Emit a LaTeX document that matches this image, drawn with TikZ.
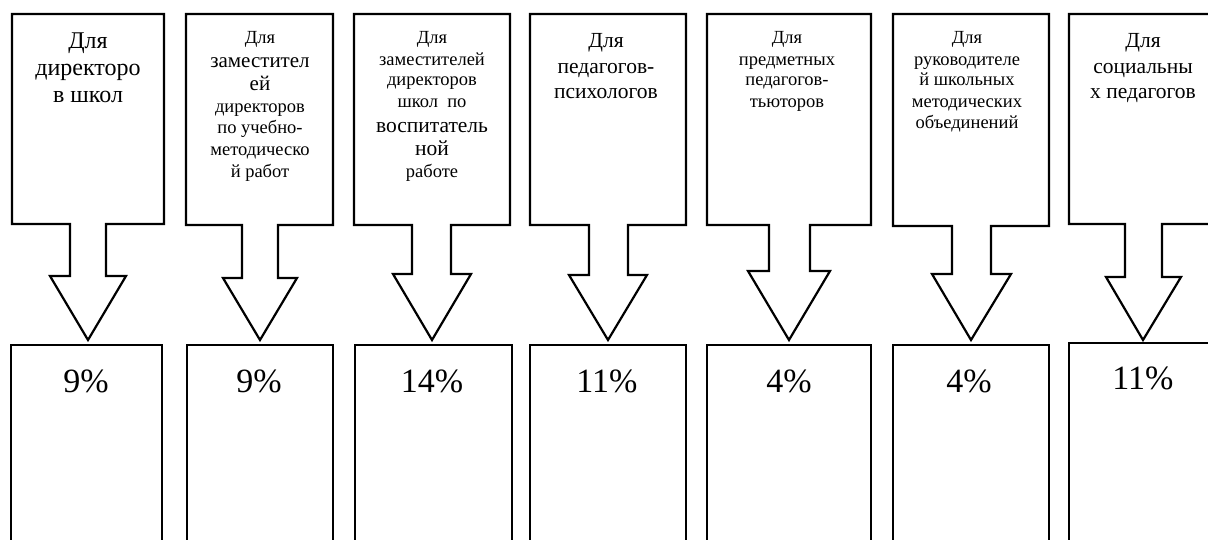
\documentclass[tikz,border=0pt]{standalone}
\usepackage{fontspec}
\setmainfont{Liberation Serif}
\tikzset{
  callout/.style={draw=black, line width=2.2pt, line join=miter, fill=white},
  pbox/.style={draw=black, line width=2pt},
  txt/.style={anchor=base, inner sep=0pt, text=black},
  pct/.style={anchor=base, inner sep=0pt, text=black, font=\fontsize{34}{34}\selectfont}
}
\newcommand{\mytxt}[5]{\node[txt, font=\fontsize{#4}{#4}\selectfont] (#1) at (#2,#3) {#5};}
% #1 L, #2 R, #3 sl, #4 sr, #5 hl, #6 hr, #7 tip x, #8 box bottom, #9 stem bottom
\newcommand{\mycallout}[9]{\draw[callout] (#1,14) -- (#2,14) -- (#2,#8) -- (#4,#8) -- (#4,#9) -- (#6,#9) -- (#7,340) -- (#5,#9) -- (#3,#9) -- (#3,#8) -- (#1,#8) -- cycle;}
\begin{document}
\begin{tikzpicture}[x=1pt, y=-1pt]
\useasboundingbox (0,0) rectangle (1208,539);
\fill[white] (0,0) rectangle (1208,539);
\clip (0,0) rectangle (1208,539);

% callouts
\mycallout{12}{164}{70}{106}{50}{126}{88}{224}{276}
\mycallout{186}{333}{242}{278}{223}{297}{260}{225}{278}
\mycallout{354}{510}{412}{451}{393}{471}{432}{225}{274}
\mycallout{530}{686}{589}{628}{569}{647}{608}{225}{275}
\mycallout{707}{871}{769}{810}{748}{830}{789}{225}{271}
\mycallout{893}{1049}{952}{991}{932}{1011}{971}{226}{274}
\mycallout{1069}{1220}{1125}{1162}{1106}{1181}{1143}{224}{277}

% bottom boxes
\draw[pbox] (11,560) -- (11,345) -- (162,345) -- (162,560);
\draw[pbox] (187,560) -- (187,345) -- (333,345) -- (333,560);
\draw[pbox] (355,560) -- (355,345) -- (512,345) -- (512,560);
\draw[pbox] (530,560) -- (530,345) -- (686,345) -- (686,560);
\draw[pbox] (707,560) -- (707,345) -- (871,345) -- (871,560);
\draw[pbox] (893,560) -- (893,345) -- (1049,345) -- (1049,560);
\draw[pbox] (1069,560) -- (1069,343) -- (1230,343);

% percentages
\node[pct] (p1) at (86,392) {9\%};
\node[pct] (p2) at (259,392) {9\%};
\node[pct] (p3) at (432,392) {14\%};
\node[pct] (p4) at (607,392) {11\%};
\node[pct] (p5) at (789,392) {4\%};
\node[pct] (p6) at (969,392) {4\%};
\node[pct] (p7) at (1143,389) {11\%};

% texts callout 1
\mytxt{a1}{88}{48}{24}{Для}
\mytxt{a2}{88}{75}{24}{директоро}
\mytxt{a3}{88}{102}{24}{в школ}
% callout 2
\mytxt{b1}{260}{43}{18.5}{Для}
\mytxt{b2}{260}{67}{21}{заместител}
\mytxt{b3}{260}{90}{21}{ей}
\mytxt{b4}{260}{112}{18.5}{директоров}
\mytxt{b5}{260}{133}{18.5}{по учебно-}
\mytxt{b6}{260}{155}{18.5}{методическо}
\mytxt{b7}{260}{177}{18.5}{й работ}
% callout 3
\mytxt{c1}{432}{43}{18.5}{Для}
\mytxt{c2}{432}{65}{18.5}{заместителей}
\mytxt{c3}{432}{85}{18.5}{директоров}
\mytxt{c4}{432}{107}{18.5}{школ\ \ по}
\mytxt{c5}{432}{132}{21.5}{воспитатель}
\mytxt{c6}{432}{155}{21.5}{ной}
\mytxt{c7}{432}{177}{18.5}{работе}
% callout 4
\mytxt{d1}{606}{47}{21.5}{Для}
\mytxt{d2}{606}{73}{21.5}{педагогов-}
\mytxt{d3}{606}{98}{21.5}{психологов}
% callout 5
\mytxt{e1}{787}{43}{18.5}{Для}
\mytxt{e2}{787}{65}{18.5}{предметных}
\mytxt{e3}{787}{85}{18.5}{педагогов-}
\mytxt{e4}{787}{107}{18.5}{тьюторов}
% callout 6
\mytxt{f1}{967}{43}{18.5}{Для}
\mytxt{f2}{967}{65}{18.5}{руководителе}
\mytxt{f3}{967}{85}{18.5}{й школьных}
\mytxt{f4}{967}{107}{18.5}{методических}
\mytxt{f5}{967}{128}{18.5}{объединений}
% callout 7
\mytxt{g1}{1143}{47}{21.5}{Для}
\mytxt{g2}{1143}{73}{21.5}{социальны}
\mytxt{g3}{1143}{98}{21.5}{х педагогов}
\end{tikzpicture}
\end{document}
